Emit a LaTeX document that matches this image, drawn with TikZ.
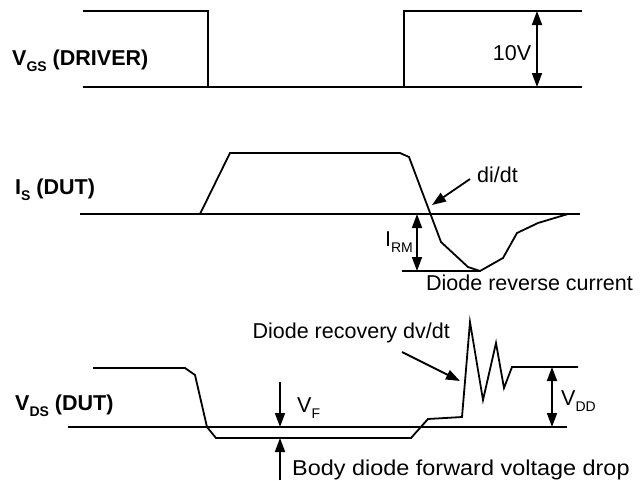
\documentclass[tikz,border=0pt]{standalone}
\usepackage{fontspec}
\setmainfont{Liberation Sans}
\usetikzlibrary{arrows.meta}
\newcommand{\sbx}[1]{\raisebox{-0.3em}{\fontsize{14}{14}\selectfont #1}}
\begin{document}
\begin{tikzpicture}[x=1pt,y=-1pt,
  wave/.style={line width=1.8pt, line join=miter},
  dimarrow/.style={line width=1.8pt, {Triangle[length=14pt,width=10pt]}-{Triangle[length=14pt,width=10pt]}},
  ptr/.style={line width=1.8pt, -{Triangle[length=14pt,width=10pt]}},
  txt/.style={font=\fontsize{21.5}{25}\selectfont, inner sep=0pt},
  bold/.style={font=\fontsize{21.5}{25}\selectfont\bfseries, inner sep=0pt}]
\useasboundingbox (0,0) rectangle (643,480);

% ---------- V_GS (DRIVER) ----------
\node[bold, anchor=base west] (lgs) at (12,65) {V\sbx{GS} (DRIVER)};
\coordinate (gsb0) at (83,87);
\coordinate (gsb1) at (582,87);
\draw[wave] (gsb0) -- (gsb1);
\draw[wave] (83,11) -- (208,11) -- (208,87) -- (404,87) -- (404,11) -- (582,11);
\coordinate (gsA) at (537,11);
\coordinate (gsB) at (537,87);
\draw[dimarrow] (gsA) -- (gsB);
\node[txt, anchor=base] (ten) at (512,60) {10V};

% ---------- I_S (DUT) ----------
\node[bold, anchor=base west] (lis) at (15,194) {I\sbx{S} (DUT)};
\draw[wave] (80,214) -- (580,214);
\draw[wave] (200,214) -- (230,153) -- (400,153) -- (409,157) -- (441,242)
  -- (468,267) -- (480,271) -- (503,258) -- (517,233) -- (538,223) -- (568,214);
\coordinate (rmA) at (417,214);
\coordinate (rmB) at (417,271);
\draw[wave] (402,271) -- (480,271);
\draw[dimarrow] (rmA) -- (rmB);
\node[txt, anchor=base east] (irm) at (413,246) {I\sbx{RM}};
\coordinate (didtA) at (470,179);
\coordinate (didtB) at (432,205);
\draw[ptr] (didtA) -- (didtB);
\node[txt, anchor=base west] (didt) at (477,182) {di/dt};
\node[txt, anchor=base west] (drc) at (426,290) {Diode reverse current};

% ---------- V_DS (DUT) ----------
\node[bold, anchor=base west] (lds) at (15,410) {V\sbx{DS} (DUT)};
\draw[wave] (68,427) -- (567,427);
\draw[wave] (93,368) -- (185,368) -- (195,375) -- (207,427) -- (216,438) -- (411,438)
  -- (428,419) -- (462,417) -- (470,322) -- (483,400) -- (496,343) -- (504,388)
  -- (512,367) -- (578,367);
\coordinate (vfT) at (280,382);
\coordinate (vfTt) at (280,427);
\coordinate (vfB) at (280,480);
\coordinate (vfBt) at (280,438);
\draw[ptr] (vfT) -- (vfTt);
\draw[ptr] (vfB) -- (vfBt);
\node[txt, anchor=base west] (vf) at (297,412) {V\sbx{F}};
\coordinate (ddA) at (552,367);
\coordinate (ddB) at (552,427);
\draw[dimarrow] (ddA) -- (ddB);
\node[txt, anchor=base west] (vdd) at (561,405) {V\sbx{DD}};
\coordinate (dvA) at (402,352);
\coordinate (dvB) at (460,381);
\draw[ptr] (dvA) -- (dvB);
\node[txt, anchor=base east] (drd) at (450,338) {Diode recovery dv/dt};
\node[txt, anchor=base west] (bdf) at (292,475) {\scalebox{1.09}[1]{Body diode forward voltage drop}};
\end{tikzpicture}
\end{document}
